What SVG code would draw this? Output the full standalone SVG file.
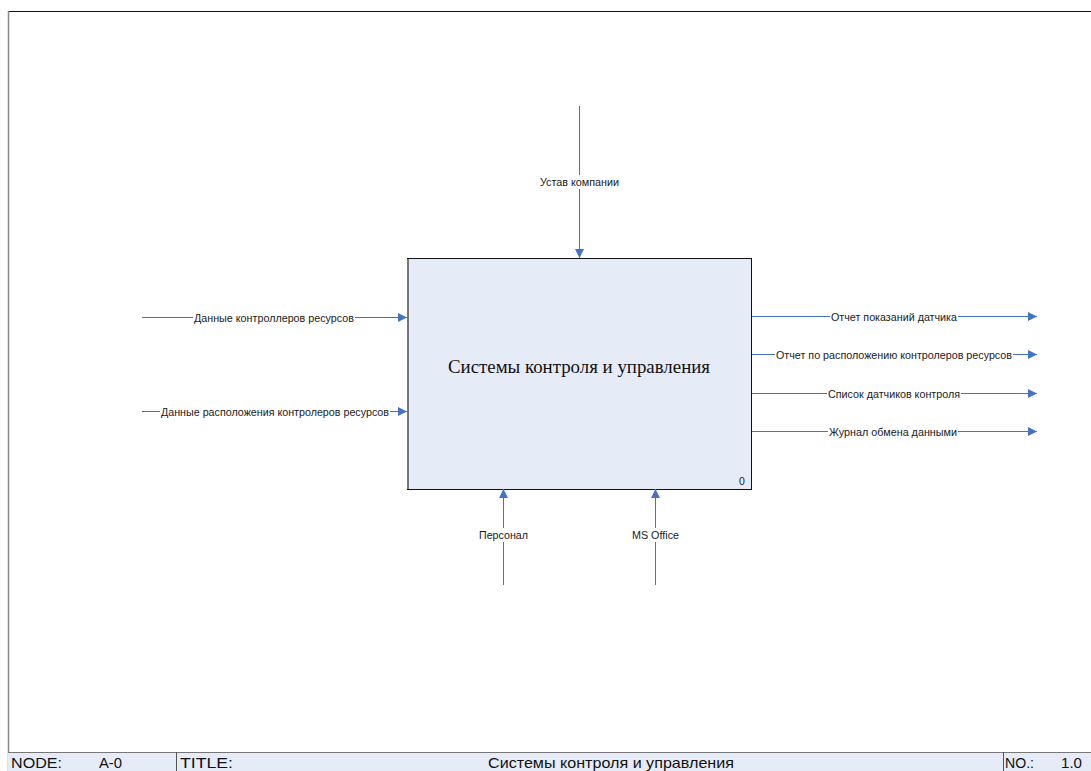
<svg xmlns="http://www.w3.org/2000/svg" width="1091" height="771" viewBox="0 0 1091 771">
  <style>
    .lbl { font-family: "Liberation Sans", Arial, sans-serif; font-size: 10.5px; fill: #1a1a1a; }
    .bg { fill: #ffffff; }
    .lnk { stroke: #4472c4; stroke-width: 1; fill: none; marker-end: url(#ah); }
    .foot { font-family: "Liberation Sans", Arial, sans-serif; font-size: 15px; fill: #111; }
  </style>
  <defs>
    <marker id="ah" viewBox="0 0 10 10" refX="10" refY="5" markerWidth="9" markerHeight="9" markerUnits="userSpaceOnUse" orient="auto">
      <path d="M0,0 L10,5 L0,10 z" fill="#4472c4"/>
    </marker>
  </defs>
  <rect width="1091" height="771" fill="#ffffff"/>

  <!-- page frame -->
  <g id="frame">
    <line x1="8" y1="11.5" x2="1091" y2="11.5" stroke="#111" stroke-width="1.2"/>
    <line x1="8.5" y1="11" x2="8.5" y2="771" stroke="#888" stroke-width="1.5"/>
  </g>

  <!-- activity box -->
  <g id="node-A0">
    <rect x="407.5" y="258.5" width="344" height="231" fill="#e6ecf7" stroke="#111" stroke-width="1"/>
    <line x1="408" y1="259" x2="408" y2="489" stroke="#777" stroke-width="2"/>
    <text x="579" y="373" text-anchor="middle" font-family="Liberation Serif, 'Times New Roman', serif" font-size="18.5" fill="#111" textLength="262" lengthAdjust="spacingAndGlyphs">Системы контроля и управления</text>
    <text x="742" y="485" text-anchor="middle" class="lbl">0</text>
  </g>

  <!-- arrows -->
  <g id="connectors">
    <!-- inputs -->
    <line class="lnk" x1="142" y1="317.5" x2="407" y2="317.5"/>
    <line class="lnk" x1="142" y1="411.5" x2="407" y2="411.5"/>
    <!-- outputs -->
    <line class="lnk" x1="752" y1="316.5" x2="1037" y2="316.5"/>
    <line class="lnk" x1="752" y1="354.5" x2="1037" y2="354.5"/>
    <line class="lnk" x1="752" y1="393.5" x2="1037" y2="393.5"/>
    <line class="lnk" x1="752" y1="431.5" x2="1037" y2="431.5"/>
    <!-- control -->
    <line class="lnk" x1="579.5" y1="106" x2="579.5" y2="258"/>
    <!-- mechanisms -->
    <line class="lnk" x1="503.5" y1="585" x2="503.5" y2="489"/>
    <line class="lnk" x1="655.5" y1="585" x2="655.5" y2="489"/>

    <!-- labels with white backing -->
    <rect class="bg" x="193" y="311" width="162" height="13"/>
    <text class="lbl" x="194" y="321.5" textLength="160" lengthAdjust="spacingAndGlyphs">Данные контроллеров ресурсов</text>
    <rect class="bg" x="160" y="405" width="230" height="13"/>
    <text class="lbl" x="161" y="415.5" textLength="228" lengthAdjust="spacingAndGlyphs">Данные расположения контролеров ресурсов</text>

    <rect class="bg" x="830" y="310" width="128" height="13"/>
    <text class="lbl" x="831" y="320.5" textLength="126" lengthAdjust="spacingAndGlyphs">Отчет показаний датчика</text>
    <rect class="bg" x="775" y="348" width="238" height="13"/>
    <text class="lbl" x="776" y="358.5" textLength="236" lengthAdjust="spacingAndGlyphs">Отчет по расположению контролеров ресурсов</text>
    <rect class="bg" x="827" y="387" width="134" height="13"/>
    <text class="lbl" x="828" y="397.5" textLength="132" lengthAdjust="spacingAndGlyphs">Список датчиков контроля</text>
    <rect class="bg" x="828" y="425" width="130" height="13"/>
    <text class="lbl" x="829" y="435.5" textLength="128" lengthAdjust="spacingAndGlyphs">Журнал обмена данными</text>

    <rect class="bg" x="536" y="175" width="87" height="14"/>
    <text class="lbl" x="540" y="186" textLength="79" lengthAdjust="spacingAndGlyphs">Устав компании</text>

    <rect class="bg" x="476" y="528" width="56" height="14"/>
    <text class="lbl" x="479" y="539" textLength="49" lengthAdjust="spacingAndGlyphs">Персонал</text>
    <rect class="bg" x="629" y="528" width="53" height="14"/>
    <text class="lbl" x="632" y="539" textLength="47" lengthAdjust="spacingAndGlyphs">MS Office</text>
  </g>

  <!-- title block -->
  <g id="title-block">
    <rect x="8" y="752" width="1083" height="19" fill="#e6ecf7"/>
    <line x1="8" y1="752.5" x2="1091" y2="752.5" stroke="#777" stroke-width="1"/>
    <line x1="176.5" y1="752" x2="176.5" y2="771" stroke="#555" stroke-width="1"/>
    <line x1="1003.5" y1="752" x2="1003.5" y2="771" stroke="#555" stroke-width="1"/>
    <text class="foot" x="11" y="768" textLength="51" lengthAdjust="spacingAndGlyphs">NODE:</text>
    <text class="foot" x="99" y="768" textLength="23" lengthAdjust="spacingAndGlyphs">A-0</text>
    <text class="foot" x="180" y="768" textLength="53" lengthAdjust="spacingAndGlyphs">TITLE:</text>
    <text class="foot" x="611" y="768" text-anchor="middle" textLength="246" lengthAdjust="spacingAndGlyphs">Системы контроля и управления</text>
    <text class="foot" x="1005" y="768" textLength="29" lengthAdjust="spacingAndGlyphs">NO.:</text>
    <text class="foot" x="1061" y="768" textLength="21" lengthAdjust="spacingAndGlyphs">1.0</text>
  </g>
</svg>
